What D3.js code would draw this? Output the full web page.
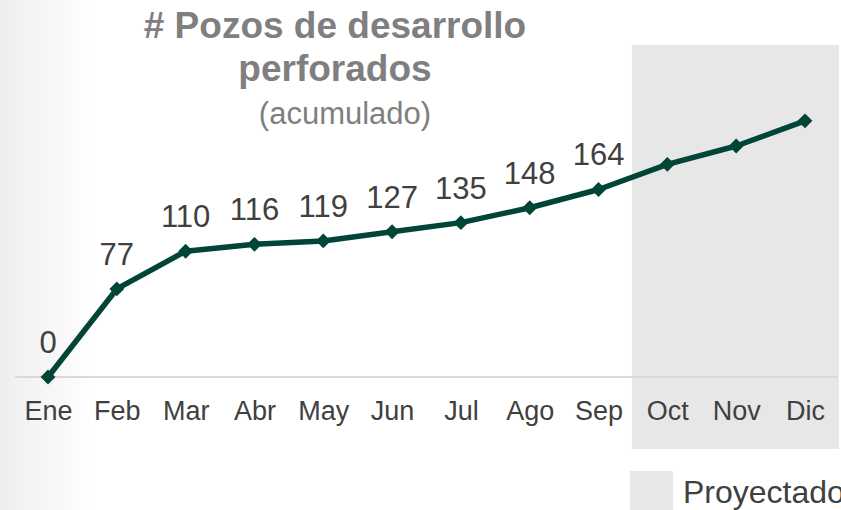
<!DOCTYPE html>
<html>
<head>
<meta charset="utf-8">
<script src="https://cdn.jsdelivr.net/npm/d3@7"></script>
<style>
  body { margin: 0; background: #fff; }
  svg { display: block; font-family: "Liberation Sans", Arial, sans-serif; }
</style>
</head>
<body>
<script>
var months = ['Ene', 'Feb', 'Mar', 'Abr', 'May', 'Jun', 'Jul', 'Ago', 'Sep', 'Oct', 'Nov', 'Dic'];
var pozos = [0, 77, 110, 116, 119, 127, 135, 148, 164, 186, 202, 224];
var labelled = ['Ene', 'Feb', 'Mar', 'Abr', 'May', 'Jun', 'Jul', 'Ago', 'Sep'];
var projected = ['Oct', 'Nov', 'Dic'];
var titleLines = ['# Pozos de desarrollo', 'perforados'];
var subtitle = '(acumulado)';
var legendLabel = 'Proyectado';

(function () {
    var width = 841,
        height = 510,
        green = '#004536',
        textGray = '#404040',
        svg, x, y, data, defs, line;

    data = months.map(function (m, i) {
        return { month: m, value: pozos[i] };
    });

    svg = d3.select('body').append('svg')
        .attr('width', width)
        .attr('height', height);

    // soft gradient on the left edge
    defs = svg.append('defs');
    var grad = defs.append('linearGradient').attr('id', 'leftfade')
        .attr('x1', '0%').attr('x2', '100%').attr('y1', '0%').attr('y2', '0%');
    grad.append('stop').attr('offset', '0%').attr('stop-color', '#eeeeee');
    grad.append('stop').attr('offset', '100%').attr('stop-color', '#ffffff');
    svg.append('rect').attr('x', 0).attr('y', 0).attr('width', 95).attr('height', height)
        .attr('fill', 'url(#leftfade)');

    x = d3.scalePoint().domain(months).range([48, 805]);
    y = d3.scaleLinear().domain([0, 230]).range([377, 114]);

    // projected area
    var step = x.step(),
        px = x(projected[0]) - step / 2 - 1;
    svg.append('rect')
        .attr('x', px)
        .attr('y', 45)
        .attr('width', 839 - px)
        .attr('height', 404)
        .attr('fill', '#e7e7e7');

    // baseline
    svg.append('line')
        .attr('x1', 15).attr('x2', 838)
        .attr('y1', y(0)).attr('y2', y(0))
        .attr('stroke', '#d9d9d9').attr('stroke-width', 2);

    // month labels
    var xAxis = d3.axisBottom(x).tickSize(0).tickPadding(0);
    var ax = svg.append('g').attr('transform', 'translate(0,' + (y(0) + 20) + ')').call(xAxis);
    ax.select('.domain').remove();
    ax.selectAll('text')
        .attr('dy', 0)
        .attr('y', 23)
        .attr('font-size', 27)
        .attr('font-family', '"Liberation Sans", Arial, sans-serif')
        .attr('fill', textGray);

    line = d3.line()
        .x(function (d) { return x(d.month); })
        .y(function (d) { return y(d.value); });

    svg.append('path').datum(data)
        .attr('d', line)
        .attr('fill', 'none')
        .attr('stroke', green)
        .attr('stroke-width', 5.5)
        .attr('stroke-linejoin', 'round');

    svg.selectAll('.marker').data(data).enter().append('path')
        .attr('class', 'marker')
        .attr('d', d3.symbol().type(d3.symbolDiamond2).size(140))
        .attr('transform', function (d) { return 'translate(' + x(d.month) + ',' + y(d.value) + ')'; })
        .attr('fill', green);

    svg.selectAll('.vlabel').data(data.filter(function (d) { return labelled.indexOf(d.month) >= 0; }))
        .enter().append('text')
        .attr('class', 'vlabel')
        .attr('x', function (d) { return x(d.month); })
        .attr('y', function (d) { return y(d.value) - 24; })
        .attr('text-anchor', 'middle')
        .attr('font-size', 31)
        .attr('fill', textGray)
        .text(function (d) { return d.value; });

    // title
    svg.selectAll('.title').data(titleLines).enter().append('text')
        .attr('class', 'title')
        .attr('x', 335)
        .attr('y', function (d, i) { return 38 + i * 43; })
        .attr('text-anchor', 'middle')
        .attr('font-size', 37)
        .attr('font-weight', 'bold')
        .attr('fill', '#7f7f7f')
        .text(function (d) { return d; });

    svg.append('text')
        .attr('x', 345).attr('y', 124)
        .attr('text-anchor', 'middle')
        .attr('font-size', 31)
        .attr('fill', '#7f7f7f')
        .text(subtitle);

    // legend
    svg.append('rect')
        .attr('x', 630).attr('y', 471).attr('width', 43).attr('height', 39)
        .attr('fill', '#e7e7e7');
    svg.append('text')
        .attr('x', 683).attr('y', 503)
        .attr('font-size', 32)
        .attr('fill', textGray)
        .text(legendLabel);
}());
</script>
</body>
</html>
